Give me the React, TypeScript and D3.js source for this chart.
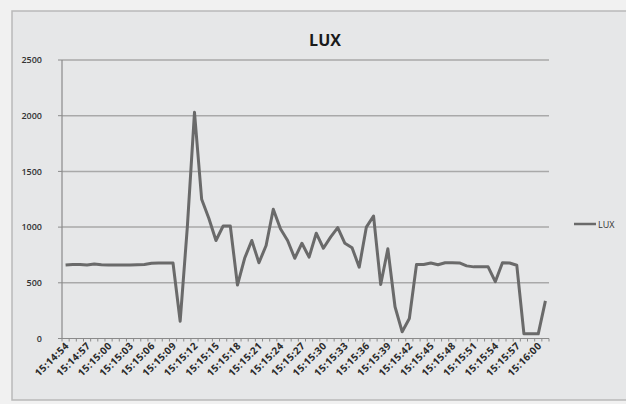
import React from 'react';
import * as d3 from 'd3';

// one reading per second, 15:14:54 .. 15:16:01
const luxValues = [
  660, 665, 665, 660, 668, 662, 660, 660, 660, 660, 662, 665, 675, 678, 678, 678,
  155, 1000, 2030, 1250, 1080, 880, 1010, 1010, 480, 720, 880, 680, 835, 1160,
  985, 880, 720, 855, 730, 945, 810, 910, 995, 855, 815, 640, 1000, 1100, 485,
  805, 285, 60, 180, 665, 665, 678, 662, 680, 680, 678, 652, 643, 643, 643, 510,
  680, 678, 658, 42, 42, 42, 338,
];
const startTime = '15:14:54';
const yTicks = [0, 500, 1000, 1500, 2000, 2500];
const labelEvery = 3;
const seriesName = 'LUX';

function timeLabel(i: number) {
  const [h, m, s] = startTime.split(':').map(Number);
  const t = h * 3600 + m * 60 + s + i;
  const hh = Math.floor(t / 3600);
  const mm = Math.floor((t % 3600) / 60);
  const ss = t % 60;
  return `${hh}:${String(mm).padStart(2, '0')}:${String(ss).padStart(2, '0')}`;
}

export default function App() {
  const width = 626;
  const height = 404;
  const plot = { left: 62, right: 549, top: 60, bottom: 338.5 };
  const font = '"Open Sans", "Liberation Sans", sans-serif';

  const idx = luxValues.map((_, i) => i);
  const x = d3.scaleBand<number>().domain(idx).range([plot.left, plot.right]);
  const y = d3.scaleLinear().domain([0, 2500]).range([plot.bottom, plot.top]);
  const cx = (i: number) => (x(i) ?? 0) + x.bandwidth() / 2;

  const line = d3.line<number>()
    .x((_, i) => cx(i))
    .y(d => y(d));

  const boundaries = d3.range(luxValues.length + 1).map(i => plot.left + i * x.bandwidth());
  const labelIdx = idx.filter(i => i % labelEvery === 0);

  return (
    <div style={{ position: 'absolute', left: 0, top: 0 }}>
      <svg width={width} height={height} style={{ display: 'block' }}>
        <rect x={0} y={0} width={width} height={height} fill="#f1f1f1" />
        <rect x={12} y={11} width={width} height={389} fill="#e6e7e8" stroke="#b9b9b9" strokeWidth={1.5} />
        <text x={325} y={46} textAnchor="middle" fontFamily={font} fontWeight="bold" fontSize={16} fill="#1a1a1a">
          LUX
        </text>

        {yTicks.map(t => (
          <g key={t}>
            {t > 0 && (
              <line x1={plot.left} x2={plot.right} y1={y(t)} y2={y(t)} stroke="#a9a9a9" strokeWidth={1.5} />
            )}
            <line x1={plot.left - 4} x2={plot.left} y1={y(t)} y2={y(t)} stroke="#8a8a8a" strokeWidth={1} />
            <text x={plot.left - 20} y={y(t) + 3.2} textAnchor="end" fontFamily={font} fontSize={9} fontWeight="600" fill="#333">
              {t}
            </text>
          </g>
        ))}

        <line x1={plot.left} x2={plot.left} y1={plot.top} y2={plot.bottom} stroke="#8a8a8a" strokeWidth={1.2} />
        <line x1={plot.left} x2={plot.right} y1={plot.bottom} y2={plot.bottom} stroke="#8a8a8a" strokeWidth={1.2} />
        {boundaries.map((bx, i) => (
          <line key={i} x1={bx} x2={bx} y1={plot.bottom} y2={plot.bottom + 3} stroke="#8a8a8a" strokeWidth={1} />
        ))}

        {labelIdx.map(i => (
          <text
            key={i}
            transform={`translate(${cx(i) + 4},${plot.bottom + 8}) rotate(-45)`}
            textAnchor="end"
            fontFamily={font}
            fontSize={10}
            fontWeight="bold"
            letterSpacing={0.4}
            fill="#2a2a2a"
          >
            {timeLabel(i)}
          </text>
        ))}

        <path d={line(luxValues) ?? ''} fill="none" stroke="#6a6a6a" strokeWidth={3} strokeLinejoin="round" />

        <line x1={574} x2={596} y1={224} y2={224} stroke="#6a6a6a" strokeWidth={2.5} />
        <text x={598} y={227.5} fontFamily={font} fontSize={9} fill="#333">
          {seriesName}
        </text>
      </svg>
    </div>
  );
}
